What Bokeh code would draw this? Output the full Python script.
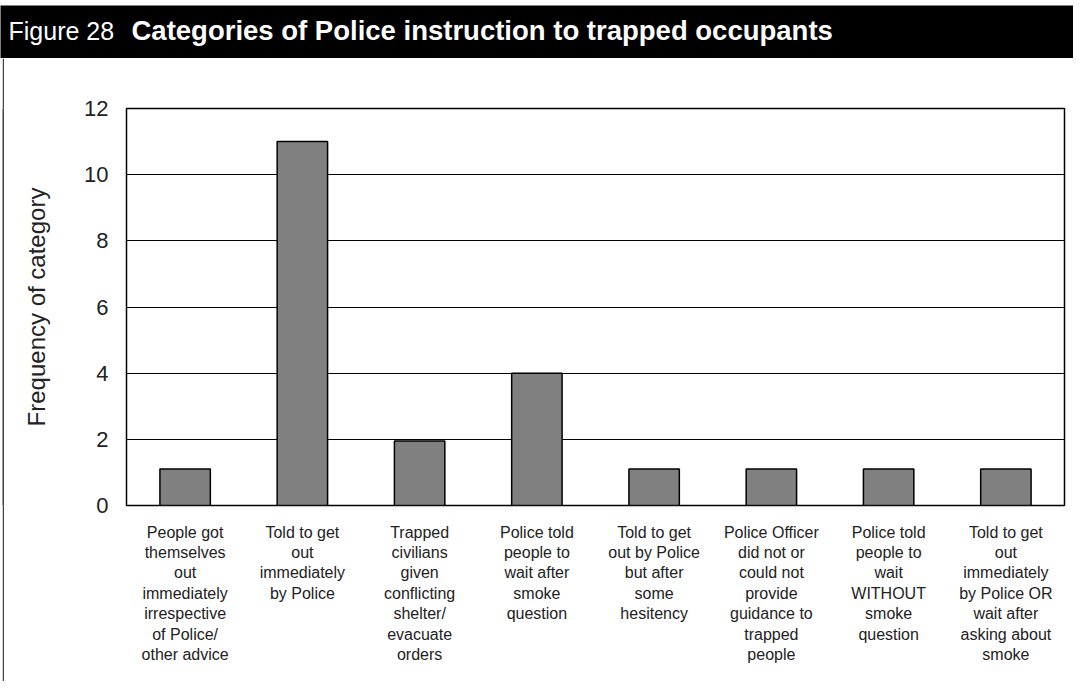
from bokeh.plotting import figure
from bokeh.models import FactorRange, Range1d, FixedTicker, ColumnDataSource, Spacer
from bokeh.layouts import row
from bokeh.core.properties import value
from bokeh.embed import file_html
from bokeh.resources import INLINE

categories = [
    "People got\nthemselves\nout\nimmediately\nirrespective\nof Police/\nother advice",
    "Told to get\nout\nimmediately\nby Police",
    "Trapped\ncivilians\ngiven\nconflicting\nshelter/\nevacuate\norders",
    "Police told\npeople to\nwait after\nsmoke\nquestion",
    "Told to get\nout by Police\nbut after\nsome\nhesitency",
    "Police Officer\ndid not or\ncould not\nprovide\nguidance to\ntrapped\npeople",
    "Police told\npeople to\nwait\nWITHOUT\nsmoke\nquestion",
    "Told to get\nout\nimmediately\nby Police OR\nwait after\nasking about\nsmoke",
]
frequency = [1.1, 11, 1.95, 4, 1.1, 1.1, 1.1, 1.1]
y_ticks = [0, 2, 4, 6, 8, 10, 12]

title_prefix = "Figure 28"
title_main = "Categories of Police instruction to trapped occupants"
y_label = "Frequency of category"

FONT = "Liberation Sans"
TEXT = "#222222"

W = 1073
H_HDR = 58
H_MAIN = 623

# Header bar
hdr = figure(width=W, height=H_HDR, x_range=Range1d(0, W), y_range=Range1d(0, H_HDR - 5),
             output_backend="svg", toolbar_location=None,
             min_border=0, min_border_top=5,
             background_fill_color="black", border_fill_color="white",
             outline_line_color=None)
hdr.axis.visible = False
hdr.grid.visible = False
hdr.text(x=[8], y=[28], text=[title_prefix], text_color="white",
         text_font=value(FONT), text_font_size="25px", text_baseline="alphabetic")
hdr.text(x=[131], y=[28], text=[title_main], text_color="white",
         text_font=value(FONT), text_font_size="27.5px", text_font_style="bold",
         text_baseline="alphabetic")

# Thin left frame line
gap = Spacer(width=2, height=H_MAIN)
edge = figure(width=2, height=H_MAIN, x_range=Range1d(0, 1), y_range=Range1d(0, 1),
              output_backend="svg", toolbar_location=None, min_border=0,
              background_fill_color="#444444", border_fill_color="#444444",
              outline_line_color=None)
edge.axis.visible = False
edge.grid.visible = False

# Main chart
src = ColumnDataSource(dict(cat=categories, val=frequency))
p = figure(width=W - 4, height=H_MAIN, x_range=FactorRange(*categories), y_range=Range1d(0, 12),
           output_backend="svg", toolbar_location=None,
           min_border_left=122, min_border_right=9, min_border_top=50, min_border_bottom=176,
           outline_line_color="black", outline_line_width=1.5)
p.vbar(x="cat", top="val", width=0.43, source=src, fill_color="#808080",
       line_color="black", line_width=1.5)

p.xgrid.visible = False
p.ygrid.grid_line_color = "black"
p.ygrid.grid_line_width = 1
p.ygrid.ticker = FixedTicker(ticks=y_ticks)

p.yaxis.ticker = FixedTicker(ticks=y_ticks)
p.yaxis.axis_line_color = None
p.yaxis.major_tick_line_color = None
p.yaxis.minor_tick_line_color = None
p.yaxis.major_label_text_font = FONT
p.yaxis.major_label_text_font_size = "22px"
p.yaxis.major_label_text_color = TEXT
p.yaxis.major_label_standoff = 12
p.yaxis.axis_label = y_label
p.yaxis.axis_label_text_font = FONT
p.yaxis.axis_label_text_font_size = "24px"
p.yaxis.axis_label_text_font_style = "normal"
p.yaxis.axis_label_text_color = TEXT
p.yaxis.axis_label_standoff = 31

p.xaxis.axis_line_color = None
p.xaxis.major_tick_line_color = None
p.xaxis.minor_tick_line_color = None
p.xaxis.major_label_text_font = FONT
p.xaxis.major_label_text_font_size = "16px"
p.xaxis.major_label_text_color = TEXT
p.xaxis.major_label_standoff = 12

open("out.html", "w").write(file_html([hdr, row(gap, edge, p, spacing=0)], INLINE))
